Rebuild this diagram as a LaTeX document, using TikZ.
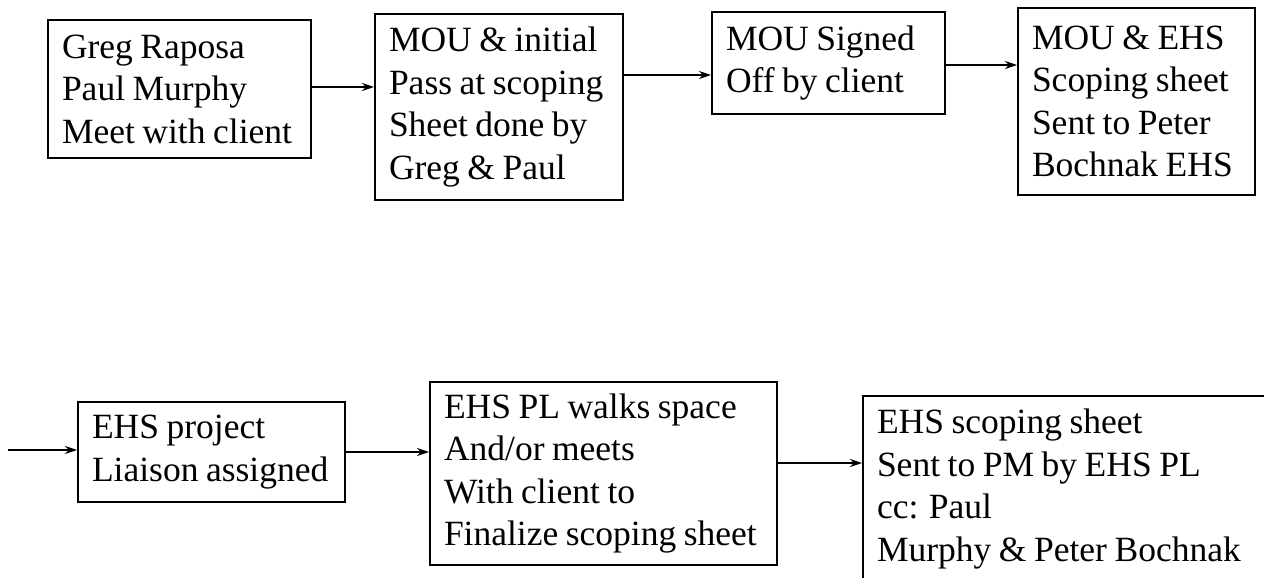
\documentclass[tikz,border=0pt]{standalone}
\usepackage{fontspec}
\setmainfont{Liberation Serif}[WordSpace=0.85]
\usetikzlibrary{arrows.meta}
\begin{document}
\begin{tikzpicture}[x=1pt,y=-1pt,
  box/.style={draw, line width=2pt, align=flush left, inner xsep=14pt, inner ysep=0pt,
    font=\fontsize{35.5}{42.5}\selectfont},
  arr/.style={line width=1.6pt, -{Stealth[length=12pt,width=8pt]}}]
\useasboundingbox (0,0) rectangle (1264,578);
\begin{scope}
\clip (0,0) rectangle (1264,578);
\node[box, text width=235pt, minimum height=138pt] (b1) at (179.5,89) {Greg Raposa\\Paul Murphy\\Meet with client};
\node[box, text width=220pt, minimum height=186pt] (b2) at (499,107) {MOU \& initial\\Pass at scoping\\Sheet done by\\Greg \& Paul};
\node[box, text width=205pt, minimum height=102pt] (b3) at (828.5,63) {MOU Signed\\Off by client};
\node[box, text width=209pt, minimum height=187pt] (b4) at (1136.5,101.5) {MOU \& EHS\\Scoping sheet\\Sent to Peter\\Bochnak EHS};
\node[box, text width=239pt, minimum height=100pt] (b5) at (211.5,452) {EHS project\\Liaison assigned};
\node[box, text width=319pt, minimum height=183pt] (b6) at (603.5,473.5) {EHS PL walks space\\And/or meets\\With client to\\Finalize scoping sheet};
\node[box, text width=400pt, minimum height=186pt, anchor=north west] (b7) at (862,395) {EHS scoping sheet\\Sent to PM by EHS PL\\cc: Paul\\Murphy \& Peter Bochnak};
\end{scope}
\coordinate (start) at (8,450);
\draw[arr] (b1.east |- 0,87) -- (b2.west |- 0,87);
\draw[arr] (b2.east |- 0,75) -- (b3.west |- 0,75);
\draw[arr] (b3.east |- 0,65) -- (b4.west |- 0,65);
\draw[arr] (start) -- (b5.west |- start);
\draw[arr] (b5.east |- 0,452) -- (b6.west |- 0,452);
\draw[arr] (b6.east |- 0,463) -- (b7.west |- 0,463);
\end{tikzpicture}
\end{document}
